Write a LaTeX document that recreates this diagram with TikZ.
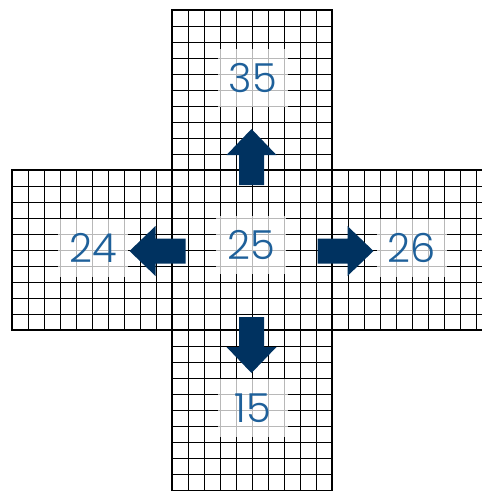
\documentclass[tikz,border=0pt]{standalone}
\usepackage{fontspec}
\setmainfont{Poppins Light}
\definecolor{navy}{RGB}{0,50,96}
\definecolor{numblue}{RGB}{30,96,154}
\tikzset{
  gridline/.style={line width=0.8pt, black},
  sqborder/.style={line width=2.5pt, black},
  numlabel/.style={fill=white, fill opacity=0.72, text opacity=1, text=numblue,
    minimum width=70pt, minimum height=58pt, inner sep=0pt, font=\fontsize{40}{42}\selectfont},
  blockarrow/.style={fill=navy, draw=none}
}
\begin{document}
\begin{tikzpicture}[x=1pt,y=-1pt]
\useasboundingbox (0,0) rectangle (482,491);
\clip (0,0) rectangle (482,491);
% squares: top, left, centre, right, bottom (bottom one runs past the page)
\foreach \sx/\sy/\sn in {172/10/10, 12/170/10, 172/170/10, 332/170/10, 172/330/11}{
  \foreach \i in {1,...,10}{
    \draw[gridline] ({\sx+16*\i},\sy) -- ({\sx+16*\i},{\sy+16*\sn});
  }
  \foreach \i in {1,...,\sn}{
    \draw[gridline] (\sx,{\sy+16*\i}) -- ({\sx+160},{\sy+16*\i});
  }
}
\foreach \sx/\sy/\sn in {172/10/10, 12/170/10, 172/170/10, 332/170/10, 172/330/11}{
  \draw[sqborder] (\sx,\sy) rectangle ({\sx+160},{\sy+16*\sn});
}
% labels
\node[numlabel] (n35) at (253,78) {35};
\node[numlabel] (n24) at (93,248) {24};
\node[numlabel] (n25) at (251,245) {25};
\node[numlabel] (n26) at (412,248) {26};
\node[numlabel] (n15) at (253,408) {15};
% block arrows
\coordinate (c) at (251.5,251);
\fill[blockarrow] ([xshift=-12.5pt,yshift=-66pt]c) -- ([xshift=-12.5pt,yshift=-96pt]c) -- ([xshift=-25pt,yshift=-96pt]c) -- ([yshift=-122pt]c) -- ([xshift=25pt,yshift=-96pt]c) -- ([xshift=12.5pt,yshift=-96pt]c) -- ([xshift=12.5pt,yshift=-66pt]c) -- cycle;
\fill[blockarrow] ([xshift=-12.5pt,yshift=66pt]c) -- ([xshift=-12.5pt,yshift=96pt]c) -- ([xshift=-25pt,yshift=96pt]c) -- ([yshift=122pt]c) -- ([xshift=25pt,yshift=96pt]c) -- ([xshift=12.5pt,yshift=96pt]c) -- ([xshift=12.5pt,yshift=66pt]c) -- cycle;
\fill[blockarrow] ([yshift=-12.5pt,xshift=-66pt]c) -- ([yshift=-12.5pt,xshift=-96pt]c) -- ([yshift=-25pt,xshift=-96pt]c) -- ([xshift=-122pt]c) -- ([yshift=25pt,xshift=-96pt]c) -- ([yshift=12.5pt,xshift=-96pt]c) -- ([yshift=12.5pt,xshift=-66pt]c) -- cycle;
\fill[blockarrow] ([yshift=-12.5pt,xshift=66pt]c) -- ([yshift=-12.5pt,xshift=96pt]c) -- ([yshift=-25pt,xshift=96pt]c) -- ([xshift=122pt]c) -- ([yshift=25pt,xshift=96pt]c) -- ([yshift=12.5pt,xshift=96pt]c) -- ([yshift=12.5pt,xshift=66pt]c) -- cycle;
\end{tikzpicture}
\end{document}
